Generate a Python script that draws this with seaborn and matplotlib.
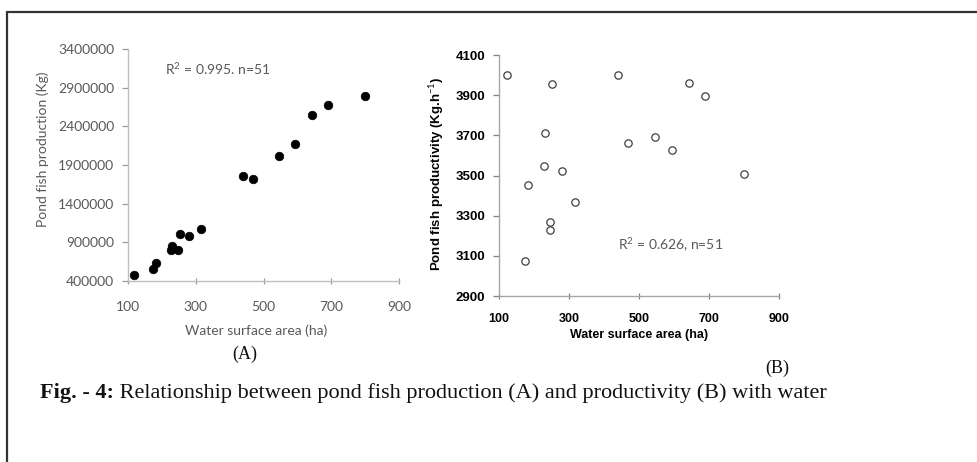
import matplotlib
matplotlib.use("Agg")
import matplotlib.pyplot as plt
from matplotlib.lines import Line2D
import seaborn as sns
import pandas as pd

# Panel A: total pond fish production against water surface area
area_a = [116.7, 172.7, 182.6, 226.8, 230.7, 248.4, 254.3, 280.8, 315.2,
          440.0, 467.6, 546.2, 594.3, 643.4, 690.6, 800.7]
production = [482000, 551000, 633000, 801500, 853000, 801500, 1008700, 987000,
              1069000, 1760000, 1721000, 2019000, 2166000, 2545000, 2679000, 2796000]

# Panel B: pond fish productivity against water surface area
area_b = [121.9, 175.3, 183.9, 227.7, 231.6, 244.9, 245.9, 251.6, 280.2,
          316.4, 440.3, 469.9, 545.2, 592.9, 642.4, 689.1, 800.7]
productivity = [4000, 3074, 3455, 3545, 3711, 3270, 3227, 3954, 3522,
                3368, 4000, 3664, 3694, 3628, 3962, 3895, 3505]

x_ticks = [100, 300, 500, 700, 900]
y_ticks_a = [400000, 900000, 1400000, 1900000, 2400000, 2900000, 3400000]
y_ticks_b = [2900, 3100, 3300, 3500, 3700, 3900, 4100]

r2_a = "R$^2$ = 0.995. n=51"
r2_b = "R$^2$ = 0.626, n=51"
caption_bold = "Fig. - 4:"
caption_rest = " Relationship between pond fish production (A) and productivity (B) with water"

df_a = pd.DataFrame({"area": area_a, "production": production})
df_b = pd.DataFrame({"area": area_b, "productivity": productivity})

sns.set_theme(style="white")
plt.rcParams["font.family"] = ["Lato", "DejaVu Sans"]
plt.rcParams["mathtext.fontset"] = "custom"
plt.rcParams["mathtext.rm"] = "Lato"

W, H = 978, 462
fig = plt.figure(figsize=(W / 100, H / 100), dpi=100)
fig.patch.set_facecolor("white")


def fx(px):
    return px / W


def fy(py):
    return 1 - py / H


def box(left, top, right, bottom):
    return [fx(left), fy(bottom), fx(right - left), (bottom - top) / H]


grey_text = "#595959"

# ---- panel A ----
ax_a = fig.add_axes(box(128, 49, 399, 281))
sns.scatterplot(data=df_a, x="area", y="production", ax=ax_a, color="black",
                s=38, edgecolor="black", linewidth=0.5, zorder=3)
ax_a.set_xlim(100, 900)
ax_a.set_ylim(400000, 3400000)
ax_a.set_xticks(x_ticks)
ax_a.set_yticks(y_ticks_a)
ax_a.set_xticklabels([str(v) for v in x_ticks])
ax_a.set_yticklabels([str(v) for v in y_ticks_a])
for side in ("top", "right"):
    ax_a.spines[side].set_visible(False)
for side in ("left", "bottom"):
    ax_a.spines[side].set_color("#bfbfbf")
    ax_a.spines[side].set_linewidth(1.0)
ax_a.tick_params(axis="y", direction="out", length=4, width=0.9, color="#9a9a9a",
                 labelsize=10, labelcolor=grey_text, pad=6, left=True)
ax_a.tick_params(axis="x", direction="inout", length=5, width=0.9, color="#9a9a9a",
                 labelsize=10, labelcolor=grey_text, pad=12, bottom=True)
ax_a.set_xlabel("Water surface area (ha)", fontsize=10, color=grey_text)
ax_a.set_ylabel("Pond fish production (Kg)", fontsize=10, color=grey_text)
ax_a.xaxis.set_label_coords((256 - 128) / 271, -(331 - 281) / 232)
ax_a.xaxis.label.set_va("center")
ax_a.yaxis.set_label_coords((43 - 128) / 271, (281 - 149) / 232)
ax_a.yaxis.label.set_va("center")
ax_a.text(0.137, 0.915, r2_a, transform=ax_a.transAxes, fontsize=10,
          color=grey_text, ha="left", va="center")

# ---- panel B ----
ax_b = fig.add_axes(box(499, 55, 779, 296))
sns.scatterplot(data=df_b, x="area", y="productivity", ax=ax_b, facecolor="white",
                s=28, edgecolor="#404040", linewidth=0.9, zorder=3)
ax_b.set_xlim(100, 900)
ax_b.set_ylim(2900, 4100)
ax_b.set_xticks(x_ticks)
ax_b.set_yticks(y_ticks_b)
ax_b.set_xticklabels([str(v) for v in x_ticks])
ax_b.set_yticklabels([str(v) for v in y_ticks_b])
for side in ("top", "right"):
    ax_b.spines[side].set_visible(False)
for side in ("left", "bottom"):
    ax_b.spines[side].set_color("#a6a6a6")
    ax_b.spines[side].set_linewidth(1.0)
bold_font = ["Liberation Sans Narrow", "Liberation Sans", "DejaVu Sans"]
ax_b.tick_params(axis="y", direction="out", length=4, width=0.9, color="#808080",
                 labelsize=9.5, labelcolor="black", pad=6, left=True)
ax_b.tick_params(axis="x", direction="inout", length=5, width=0.9, color="#808080",
                 labelsize=9, labelcolor="black", pad=10, bottom=True)
for lab in ax_b.get_xticklabels() + ax_b.get_yticklabels():
    lab.set_family(["Liberation Sans", "DejaVu Sans"])
    lab.set_fontweight("bold")
ax_b.set_xlabel("Water surface area (ha)", fontsize=9, fontweight="bold",
                family=bold_font, color="black")
ax_b.set_ylabel("Pond fish productivity (Kg.h$^{-1}$)", fontsize=9.5,
                fontweight="bold", family=bold_font, color="black")
ax_b.xaxis.set_label_coords((639 - 499) / 280, -(335 - 296) / 241)
ax_b.xaxis.label.set_va("center")
ax_b.yaxis.set_label_coords((437 - 499) / 280, (296 - 174) / 241)
ax_b.yaxis.label.set_va("center")
ax_b.text((618 - 499) / 280, (296 - 245) / 241, r2_b, transform=ax_b.transAxes,
          fontsize=10, color=grey_text, ha="left", va="center")

# ---- panel letters and caption ----
serif = ["Liberation Serif", "DejaVu Serif"]
fig.text(fx(245), fy(354), "(A)", family=serif, fontsize=13, ha="center",
         va="center", color="#111111")
fig.text(fx(777), fy(368), "(B)", family=serif, fontsize=13, ha="center",
         va="center", color="#111111")
t_bold = fig.text(fx(40), fy(393), caption_bold, family=serif, fontsize=16,
                  fontweight="bold", ha="left", va="center", color="#111111")
fig.canvas.draw()
bb = t_bold.get_window_extent()
fig.text(bb.x1 / W, fy(393), caption_rest, family=serif, fontsize=16,
         ha="left", va="center", color="#111111")

# ---- frame lines ----
fig.add_artist(Line2D([fx(7), 1.0], [fy(12), fy(12)], color="#333333",
                      linewidth=1.6, transform=fig.transFigure))
fig.add_artist(Line2D([fx(7), fx(7)], [fy(12), 0.0], color="#333333",
                      linewidth=1.6, transform=fig.transFigure))

fig.savefig("out.png", dpi=100, facecolor="white")
